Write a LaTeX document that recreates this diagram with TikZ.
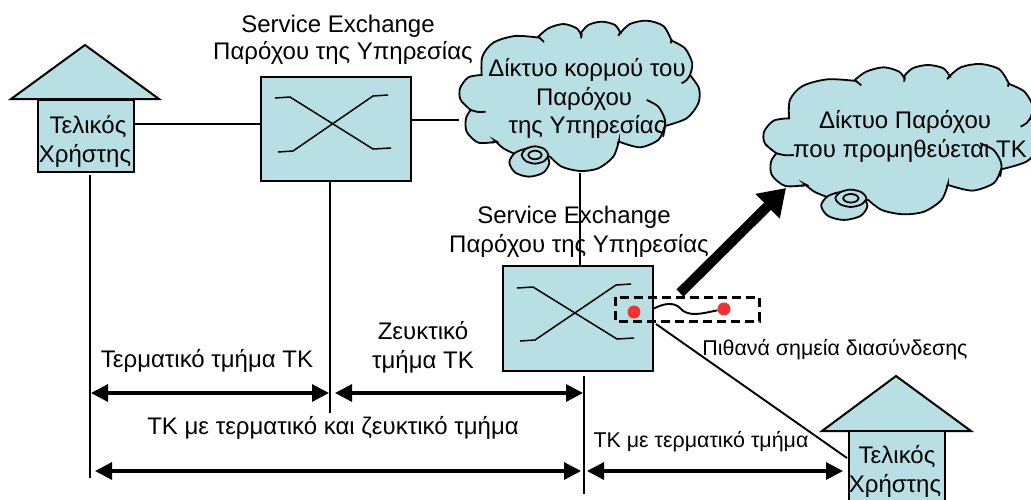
\documentclass[tikz,border=0pt]{standalone}
\usepackage{fontspec}
\setmainfont{Liberation Sans}
\usetikzlibrary{arrows.meta}
\definecolor{tealfill}{RGB}{184,223,227}
\definecolor{dotred}{RGB}{240,50,50}
\tikzset{
  shapebox/.style={draw=black,fill=tealfill,line width=2pt,inner sep=0pt,outer sep=0pt,minimum width=#1},
  lab/.style={anchor=base,inner sep=0pt,outer sep=0pt,font=\fontsize{24}{28}\selectfont},
  sm/.style={anchor=base,inner sep=0pt,outer sep=0pt,font=\fontsize{21.4}{25}\selectfont},
  wire/.style={line width=1.9pt,draw=black},
  thinx/.style={line width=1.5pt,draw=black},
  dim/.style={line width=3.2pt,{Triangle[length=17pt,width=17pt]}-{Triangle[length=17pt,width=17pt]}},
  cloudline/.style={line width=1.8pt,draw=black},
}
\newcommand\cloudpath{%
  (95,228) -- plot[smooth] coordinates{(95,228)(97,170)(130,128)(195,108)(268,113)}
  -- plot[smooth] coordinates{(265,110)(295,85)(340,72)(380,85)(395,108)}
  -- plot[smooth] coordinates{(392,100)(415,75)(455,65)(495,75)(512,100)}
  -- plot[smooth] coordinates{(510,100)(540,72)(590,62)(640,78)(665,122)}
  -- plot[smooth] coordinates{(665,122)(705,145)(727,190)(720,225)}
  -- plot[smooth] coordinates{(720,225)(747,265)(745,310)(710,355)(645,378)}
  -- plot[smooth] coordinates{(642,385)(625,420)(570,442)(507,425)}
  -- plot[smooth] coordinates{(507,422)(490,470)(445,505)(390,513)(335,500)(300,470)}
  -- plot[smooth] coordinates{(195,462)(160,445)(135,422)}
  -- plot[smooth] coordinates{(140,425)(85,428)(50,395)(48,355)(62,330)}
  -- plot[smooth] coordinates{(62,330)(32,300)(30,265)(55,232)(95,225)}
  -- cycle}
\newcommand\cloudcurls{%
  \draw[cloudline] plot[smooth] coordinates{(268,113)(282,126)};
  \draw[cloudline] plot[smooth] coordinates{(395,100)(393,115)};
  \draw[cloudline] plot[smooth] coordinates{(512,95)(505,108)};
  \draw[cloudline] plot[smooth] coordinates{(665,118)(662,130)};
  \draw[cloudline] plot[smooth] coordinates{(720,225)(710,240)(695,250)};
  \draw[cloudline] plot[smooth] coordinates{(590,300)(625,320)(645,360)(642,400)};
  \draw[cloudline] plot[smooth] coordinates{(507,422)(503,432)};
  \draw[cloudline] plot[smooth] coordinates{(62,330)(85,336)(107,335)};
  \draw[cloudline] plot[smooth] coordinates{(140,425)(125,428)};
  \draw[cloudline,fill=tealfill] plot[smooth cycle] coordinates{(178,487)(196,458)(237,445)(280,455)(298,487)(280,518)(237,530)(196,518)};
  \draw[cloudline,fill=tealfill] plot[smooth cycle] coordinates{(215,465)(227,447)(255,439)(283,447)(295,465)(283,483)(255,491)(227,483)};
  \draw[cloudline,fill=tealfill] plot[smooth cycle] coordinates{(235,465)(241,456)(255,452)(269,456)(275,465)(269,474)(255,478)(241,474)};
}
\begin{document}
\begin{tikzpicture}[x=1pt,y=-1pt]
\useasboundingbox (0,0) rectangle (1031,499);
\clip (0,0) rectangle (1031,499);
\coordinate (c1w) at (459,120);
\coordinate (c1s) at (580,173);
% clouds
\begin{scope}[shift={(450,0)},xscale=0.3333,yscale=0.3333]
  \filldraw[cloudline,fill=tealfill] \cloudpath;
  \cloudcurls
\end{scope}
\begin{scope}[shift={(752.5,43.3)},xscale=0.3857,yscale=0.3333]
  \filldraw[cloudline,fill=tealfill] \cloudpath;
  \cloudcurls
\end{scope}
% houses
\filldraw[shapebox] (85,45) -- (159,99) -- (11,99) -- cycle;
\node[shapebox=96pt,minimum height=72pt] (hb1) at (86,136) {};
\filldraw[shapebox] (896,376) -- (971,431) -- (822,431) -- cycle;
\node[shapebox=96pt,minimum height=80pt] (hb2) at (897,471) {};
% switches
\node[shapebox=150pt,minimum height=104pt] (sw1) at (336,129) {};
\node[shapebox=150pt,minimum height=105pt] (sw2) at (578,318.5) {};
\draw[thinx] (275,98) -- (290,97) -- (373,149) -- (391,148);
\draw[thinx] (278,152) -- (293,151) -- (373,96) -- (388,95);
\draw[thinx] (517,288) -- (533,287) -- (617,339) -- (634,338);
\draw[thinx] (520,341) -- (535,340) -- (616,285) -- (631,284);
% named free ends
\coordinate (l1t) at (90,175);  \coordinate (l1b) at (90,478);
\coordinate (l2b) at (330,413);
\coordinate (l3t) at (584,376); \coordinate (l3b) at (584,494);
\coordinate (a1l) at (91,393);  \coordinate (a1r) at (329,393);
\coordinate (a2l) at (335,393); \coordinate (a2r) at (583,393);
\coordinate (a3l) at (95,471);  \coordinate (a3r) at (581,471);
\coordinate (a4l) at (587,471); \coordinate (a4r) at (843,471);
\coordinate (tks) at (680,293); \coordinate (tke) at (786,188);
\coordinate (dgs) at (656,324); \coordinate (dge) at (847,458);
% connectors
\draw[wire] (hb1.east |- 0,124) -- (sw1.west |- 0,124);
\draw[wire] (sw1.east |- 0,120) -- (c1w);
\draw[wire] (sw1.south -| l2b) -- (l2b);
\draw[wire] (l1t) -- (l1b);
\draw[wire] (c1s) -- (c1s |- sw2.north);
\draw[wire] (l3t) -- (l3b);
\draw[wire] (dgs) -- (dge);
\draw[dim] (a1l) -- (a1r);
\draw[dim] (a2l) -- (a2r);
\draw[dim] (a3l) -- (a3r);
\draw[dim] (a4l) -- (a4r);
\draw[line width=10pt,-{Triangle[length=26pt,width=33pt]}] (tks) -- (tke);
% interconnection points
\draw[line width=3pt,dash pattern=on 9pt off 5pt] (615,297) rectangle (759,321);
\node[fill=dotred,circle,minimum size=13pt,inner sep=0pt] (p1) at (634,312) {};
\node[fill=dotred,circle,minimum size=13pt,inner sep=0pt] (p2) at (724,309) {};
\draw[line width=1.9pt] (sw2.east |- 0,309) .. controls (664,303) and (674,302) .. (680,308) .. controls (688,318) and (704,313) .. (p2);
% texts
\node[lab] (t1) at (338,32) {Service Exchange};
\node[lab] (t2) at (343,59) {Παρόχου της Υπηρεσίας};
\node[lab] (t3) at (574,223) {Service Exchange};
\node[lab] (t4) at (579,252) {Παρόχου της Υπηρεσίας};
\node[lab] (t5) at (587,76) {Δίκτυο κορμού του};
\node[lab] (t6) at (584,105) {Παρόχου};
\node[lab] (t7) at (587,133) {της Υπηρεσίας};
\node[lab] (t8) at (905,128) {Δίκτυο Παρόχου};
\node[lab] (t9) at (910,157) {που προμηθεύεται ΤΚ};
\node[lab] (t10) at (88,133) {Τελικός};
\node[lab] (t11) at (85,162) {Χρήστης};
\node[lab] (t12) at (897,463) {Τελικός};
\node[lab] (t13) at (895,492) {Χρήστης};
\node[lab] (t14) at (207,367) {Τερματικό τμήμα ΤΚ};
\node[lab] (t15) at (423,339) {Ζευκτικό};
\node[lab] (t16) at (423,368) {τμήμα ΤΚ};
\node[lab] (t17) at (333,434) {ΤΚ με τερματικό και ζευκτικό τμήμα};
\node[sm] (t18) at (701,447) {ΤΚ με τερματικό τμήμα};
\node[sm] (t19) at (835,355) {Πιθανά σημεία διασύνδεσης};
\end{tikzpicture}
\end{document}
